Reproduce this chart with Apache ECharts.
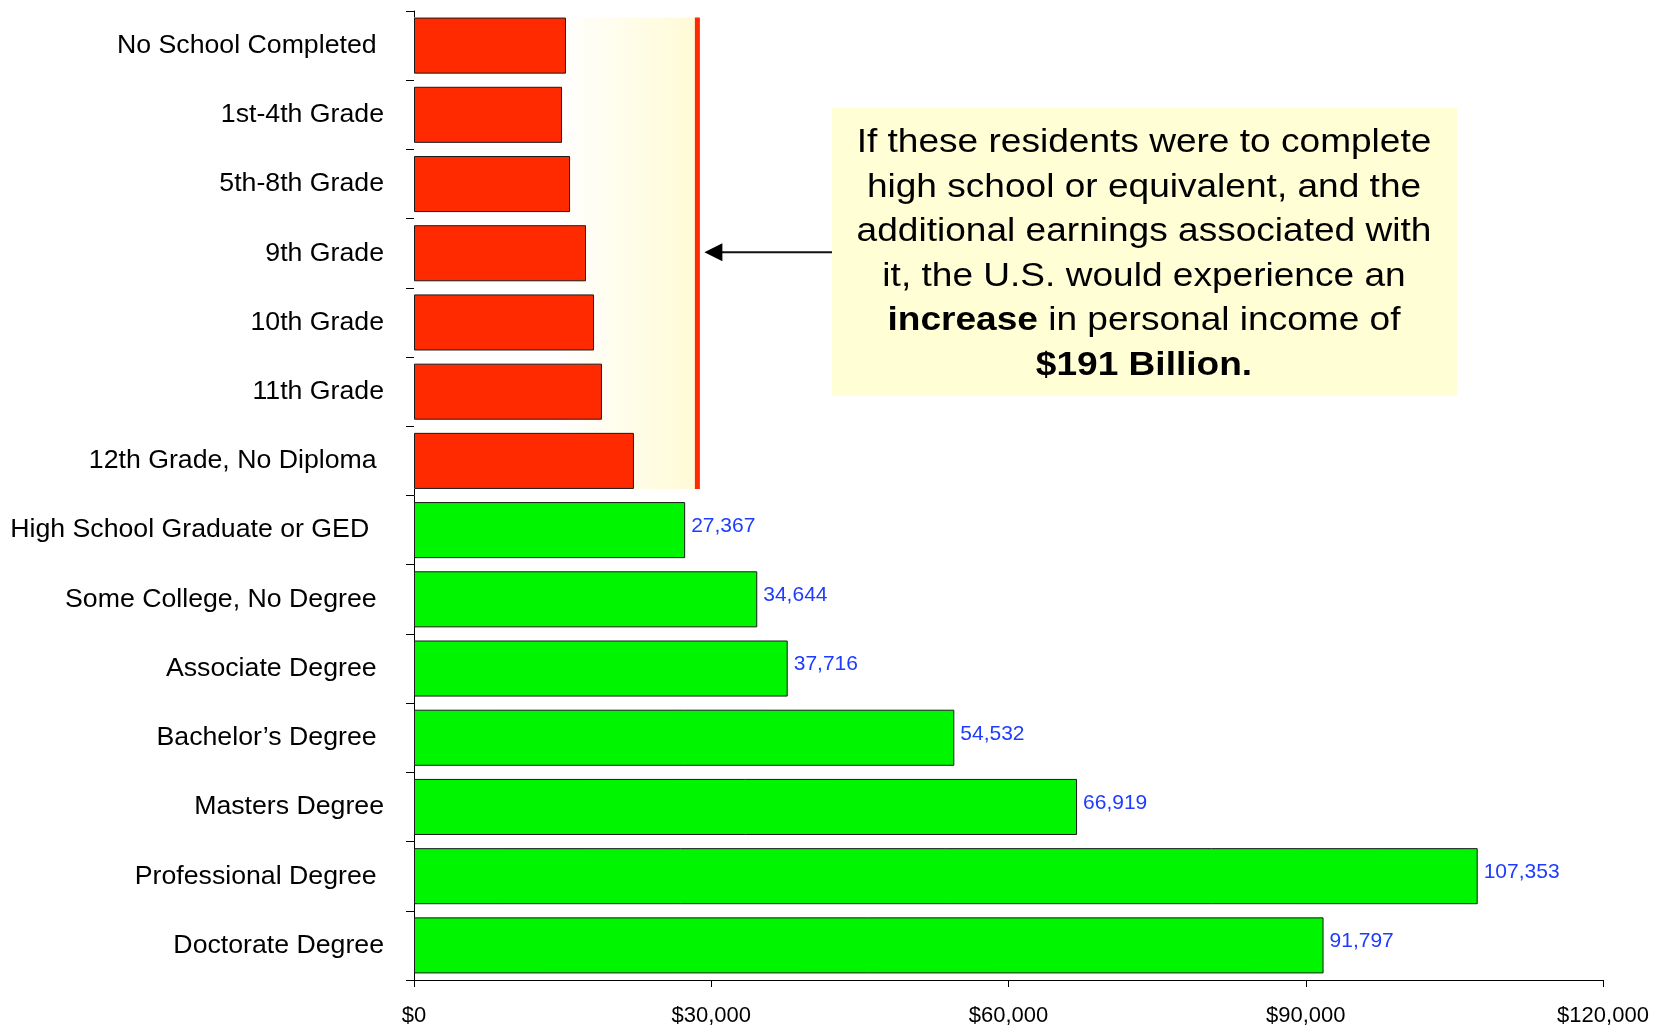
<!DOCTYPE html>
<html>
<head>
<meta charset="utf-8">
<script src="https://cdn.jsdelivr.net/npm/echarts@6/dist/echarts.min.js"></script>
<style>
  html, body { margin: 0; padding: 0; background: #ffffff; }
  #chart { width: 1656px; height: 1031px; }
</style>
</head>
<body>
<div id="chart"></div>
<script>
// Education levels, top to bottom
const categories = [
  'No School Completed ',
  '1st-4th Grade',
  '5th-8th Grade',
  '9th Grade',
  '10th Grade',
  '11th Grade',
  '12th Grade, No Diploma ',
  'High School Graduate or GED  ',
  'Some College, No Degree ',
  'Associate Degree ',
  'Bachelor\u2019s Degree ',
  'Masters Degree',
  'Professional Degree ',
  'Doctorate Degree'
];

// Mean earnings for residents without a high school diploma
const belowDiploma = [15340, 14940, 15750, 17360, 18170, 18970, 22200, '-', '-', '-', '-', '-', '-', '-'];

// Mean earnings for high school graduates and beyond
const withDiploma = ['-', '-', '-', '-', '-', '-', '-', 27367, 34644, 37716, 54532, 66919, 107353, 91797];

// Earnings level that marks the shaded gap to a diploma
const gapThreshold = 28600;

// Value-axis ticks
const xTicks = [0, 30000, 60000, 90000, 120000];

const noteText =
  'If these residents were to complete\n' +
  'high school or equivalent, and the\n' +
  'additional earnings associated with\n' +
  'it, the U.S. would experience an\n' +
  '{b|increase} in personal income of\n' +
  '{b|$191 Billion.}';

const FONT = '"Liberation Sans", Arial, Helvetica, sans-serif';
const BAR_FRACTION = 0.81;
const lastBelowIndex = belowDiploma.filter(v => v !== '-').length - 1;

const chart = echarts.init(document.getElementById('chart'), null, { renderer: 'canvas' });

const option = {
  animation: false,
  backgroundColor: '#ffffff',
  grid: { left: 414, right: 53, top: 11, bottom: 51, containLabel: false },
  xAxis: {
    type: 'value',
    min: xTicks[0],
    max: xTicks[xTicks.length - 1],
    interval: xTicks[1] - xTicks[0],
    axisLine: { show: true, lineStyle: { color: '#000000', width: 1 } },
    axisTick: { show: true, length: 7, lineStyle: { color: '#000000' } },
    splitLine: { show: false },
    axisLabel: {
      color: '#000000',
      fontFamily: FONT,
      fontSize: 22,
      margin: 25,
      formatter: v => '$' + v.toLocaleString('en-US')
    }
  },
  yAxis: {
    type: 'category',
    inverse: true,
    offset: 3,
    data: categories,
    axisLine: { show: true, lineStyle: { color: '#000000', width: 1 } },
    axisTick: { show: true, length: 8, alignWithLabel: false, lineStyle: { color: '#000000' } },
    axisLabel: {
      color: '#000000',
      fontFamily: FONT,
      fontSize: 26.7,
      margin: 27
    }
  },
  series: [
    {
      // shaded gap between each level and a diploma, bounded by the red threshold line
      type: 'custom',
      silent: true,
      z: 1,
      data: [[0, 0]],
      encode: { x: 0, y: 1 },
      renderItem: function (params, api) {
        const band = api.size([0, 1])[1];
        const half = band * BAR_FRACTION / 2;
        const x0 = api.coord([0, 0])[0];
        const x1 = api.coord([gapThreshold, 0])[0];
        const yTop = api.coord([0, 0])[1] - half;
        const yBot = api.coord([0, lastBelowIndex])[1] + half;
        return {
          type: 'group',
          children: [
            {
              type: 'rect',
              shape: { x: x0, y: yTop, width: x1 - x0, height: yBot - yTop },
              style: {
                fill: new echarts.graphic.LinearGradient(0, 0, 1, 0, [
                  { offset: 0, color: '#ffffff' },
                  { offset: 0.5, color: '#ffffff' },
                  { offset: 0.95, color: '#FFFBD9' },
                  { offset: 1, color: '#FFFBD9' }
                ])
              }
            },
            {
              type: 'rect',
              shape: { x: x1 - 2.5, y: yTop, width: 5, height: yBot - yTop },
              style: { fill: '#FF2A00' }
            }
          ]
        };
      }
    },
    {
      name: 'Below diploma',
      type: 'bar',
      z: 2,
      data: belowDiploma,
      barCategoryGap: '19%',
      barGap: '-100%',
      itemStyle: { color: '#FF2A00', borderColor: '#1a1a1a', borderWidth: 1 }
    },
    {
      name: 'Diploma and beyond',
      type: 'bar',
      z: 2,
      data: withDiploma,
      barCategoryGap: '19%',
      barGap: '-100%',
      itemStyle: { color: '#00F500', borderColor: '#1a1a1a', borderWidth: 1 },
      label: {
        show: true,
        position: 'right',
        distance: 6,
        offset: [0, -4],
        color: '#1E3CFF',
        fontFamily: FONT,
        fontSize: 21,
        formatter: p => p.value.toLocaleString('en-US')
      }
    }
  ]
};

chart.setOption(option);

// Callout box with an arrow pointing at the threshold line
const tip = chart.convertToPixel({ gridIndex: 0 }, [gapThreshold, categories[3]]);
const boxX = 832, boxY = 108, boxW = 625, boxH = 288;
const tipX = tip[0] + 7;
const tipY = tip[1] - 1;

chart.setOption({
  graphic: [
    {
      type: 'rect',
      z: 10,
      shape: { x: boxX, y: boxY, width: boxW, height: boxH },
      style: { fill: '#FFFED5' }
    },
    {
      type: 'text',
      z: 20,
      x: boxX + boxW / 2 - 0.5,
      y: boxY + boxH / 2 + 2,
      scaleX: 1.09,
      style: {
        text: noteText,
        fill: '#000000',
        fontFamily: FONT,
        fontSize: 34,
        lineHeight: 44.5,
        align: 'center',
        verticalAlign: 'middle',
        rich: {
          b: { fontFamily: FONT, fontSize: 34, fontWeight: 'bold', lineHeight: 44.5, fill: '#000000' }
        }
      }
    },
    {
      type: 'line',
      z: 10,
      shape: { x1: boxX, y1: tipY, x2: tipX + 14, y2: tipY },
      style: { stroke: '#111111', lineWidth: 2 }
    },
    {
      type: 'polygon',
      z: 10,
      shape: { points: [[tipX, tipY], [tipX + 18, tipY - 9], [tipX + 18, tipY + 9]] },
      style: { fill: '#000000' }
    }
  ]
});
</script>
</body>
</html>
